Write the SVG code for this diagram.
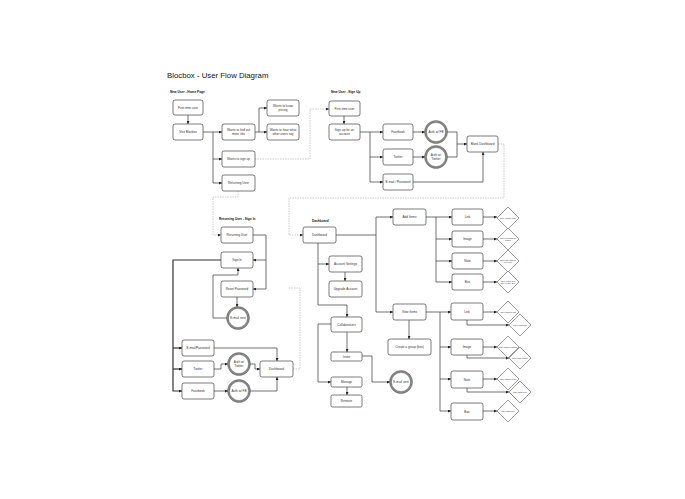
<svg xmlns="http://www.w3.org/2000/svg" width="685" height="499" viewBox="0 0 685 499">
<style>
.bg{fill:#fff}
.n rect{fill:#fff;stroke:#444;stroke-width:0.7}
.n circle.o{fill:#fff;stroke:#888;stroke-width:2}
.n circle.e{fill:none;stroke:#444;stroke-width:0.35}
.n polygon{fill:#fff;stroke:#555;stroke-width:0.6}
text{font-family:"Liberation Sans",Arial,sans-serif;fill:#333}
.t{font-size:3.1px;text-anchor:middle}
.d{font-size:2.2px;text-anchor:middle}
.h{font-size:3.2px;font-weight:bold;fill:#111}
.title{font-size:7.8px;fill:#111}
.c path{fill:none;stroke:#333;stroke-width:0.7;marker-end:url(#ar)}
.c path.k{stroke-width:1.2}
.c path.x{stroke:#aaa;stroke-width:0.6;stroke-dasharray:1.5 1}
.c path.nm{marker-end:none}
</style>
<defs>
<marker id="ar" viewBox="0 0 4 4" refX="4" refY="2" markerWidth="3" markerHeight="3" markerUnits="userSpaceOnUse" orient="auto"><path d="M0,0 L4,2 L0,4 z" fill="#222"/></marker>
</defs>
<rect class="bg" width="685" height="499"/>
<text class="title" x="167" y="78">Blocbox - User Flow Diagram</text>
<text class="h" x="170" y="93">New User - Home Page</text>
<text class="h" x="331" y="93">New User - Sign Up</text>
<text class="h" x="219" y="220">Returning User - Sign In</text>
<text class="h" x="312" y="222">Dashboard</text>

<g class="c" id="connectors">
<path d="M188 115 V124"/>
<path d="M203 132 H222"/>
<path d="M213 132 V183 H222"/>
<path d="M213 159 H222"/>
<path d="M255 132 H259 V108 H267"/>
<path d="M259 132 H267"/>
<path class="x" d="M255 159 H310 V109 H329"/>
<path class="x" d="M238 191 V197 H213 V235 H221"/>
<path d="M344 116 V124"/>
<path d="M360 132 H383"/>
<path d="M370 132 V182 H383"/>
<path d="M370 157 H383"/>
<path d="M413 132 H425"/>
<path d="M413 157 H425"/>
<path d="M447 132 H457 V144 H467"/>
<path class="nm" d="M447 157 H457 V144"/>
<path d="M413 182 H483 V152"/>
<path class="x" d="M498 144 H504 V198 H289 V235 H303"/>
<path class="x nm" d="M293 369 H300 V288 H289"/>
<path d="M253 235 H266 V289 H253"/>
<path d="M266 260 H253"/>
<path d="M237 297 V307"/>
<path d="M227 318 H213 V275 H238 V268"/>
<path class="k" d="M221 260 H173 V391 H182"/>
<path class="k" d="M173 348 H182"/>
<path class="k" d="M173 369 H182"/>
<path d="M214 348 H277 V361"/>
<path d="M214 369 H221 V364 H228"/>
<path d="M250 364 H255 V369 H260"/>
<path d="M214 391 H228"/>
<path d="M250 391 H277 V377"/>
<path d="M336 235 H376 V312 H393"/>
<path d="M376 235 V217 H393"/>
<path d="M318 243 V305 H347 V317"/>
<path d="M318 264 H329"/>
<path d="M345 272 V281"/>
<path d="M347 332 V352"/>
<path d="M331 324 H318 V382 H331"/>
<path d="M362 356 H372 V382 H390"/>
<path d="M347 387 V395"/>
<path d="M409 320 V339"/>
<path d="M426 217 H436 V282 H452"/>
<path d="M436 217 H452"/>
<path d="M436 239 H452"/>
<path d="M436 261 H452"/>
<path d="M483 217 H497"/>
<path d="M483 239 H497"/>
<path d="M483 261 H497"/>
<path d="M483 282 H497"/>
<path d="M426 312 H440 V411 H451"/>
<path d="M440 312 H451"/>
<path d="M440 347 H451"/>
<path d="M440 379 H451"/>
<path d="M483 312 H497"/>
<path d="M483 347 H497"/>
<path d="M483 379 H497"/>
<path d="M483 411 H497"/>
<path d="M467 320 V325 H509"/>
<path d="M467 355 V358 H509"/>
<path d="M467 388 V392 H509"/>
</g>

<g class="n" id="ftu1"><rect x="173" y="100" width="30" height="15" rx="2"/><text class="t" x="188" y="108.5">First-time user</text></g>
<g class="n" id="visit"><rect x="173" y="124" width="30" height="16" rx="2"/><text class="t" x="188" y="133">Visit Blocbox</text></g>
<g class="n" id="more"><rect x="222" y="124" width="33" height="16" rx="2"/><text class="t" x="238.5" y="131.3">Wants to find out</text><text class="t" x="238.5" y="135">more info</text></g>
<g class="n" id="pricing"><rect x="267" y="100" width="32" height="16" rx="2"/><text class="t" x="283" y="107.3">Wants to know</text><text class="t" x="283" y="111">pricing</text></g>
<g class="n" id="hear"><rect x="267" y="124" width="32" height="16" rx="2"/><text class="t" x="283" y="131.3">Wants to hear what</text><text class="t" x="283" y="135">other users say</text></g>
<g class="n" id="signup"><rect x="222" y="151" width="33" height="16" rx="2"/><text class="t" x="238.5" y="160">Wants to sign up</text></g>
<g class="n" id="ret1"><rect x="222" y="175" width="33" height="16" rx="2"/><text class="t" x="238.5" y="184">Returning User</text></g>

<g class="n" id="ftu2"><rect x="329" y="101" width="31" height="15" rx="2"/><text class="t" x="344.5" y="109.5">First-time user</text></g>
<g class="n" id="acct"><rect x="329" y="124" width="31" height="16" rx="2"/><text class="t" x="344.5" y="131.3">Sign up for an</text><text class="t" x="344.5" y="135">account</text></g>
<g class="n" id="fb1"><rect x="383" y="124" width="30" height="16" rx="2"/><text class="t" x="398" y="133">Facebook</text></g>
<g class="n" id="authfb1"><circle class="o" cx="436" cy="132" r="10.5"/><circle class="e" cx="436" cy="132" r="11.5"/><circle class="e" cx="436" cy="132" r="9.5"/><text class="t" x="436" y="133">Auth w/ FB</text></g>
<g class="n" id="tw1"><rect x="383" y="149" width="30" height="16" rx="2"/><text class="t" x="398" y="158">Twitter</text></g>
<g class="n" id="authtw1"><circle class="o" cx="436" cy="157" r="10.5"/><circle class="e" cx="436" cy="157" r="11.5"/><circle class="e" cx="436" cy="157" r="9.5"/><text class="t" x="436" y="156.2">Auth w/</text><text class="t" x="436" y="159.9">Twitter</text></g>
<g class="n" id="email1"><rect x="383" y="174" width="30" height="16" rx="2"/><text class="t" x="398" y="183">E-mail / Password</text></g>
<g class="n" id="blank"><rect x="467" y="136" width="31" height="16" rx="2"/><text class="t" x="482.5" y="145">Blank Dashboard</text></g>

<g class="n" id="ret2"><rect x="221" y="227" width="32" height="16" rx="2"/><text class="t" x="237" y="236">Returning User</text></g>
<g class="n" id="signin"><rect x="221" y="252" width="32" height="16" rx="2"/><text class="t" x="237" y="261">Sign In</text></g>
<g class="n" id="reset"><rect x="221" y="281" width="32" height="16" rx="2"/><text class="t" x="237" y="290">Reset Password</text></g>
<g class="n" id="sent1"><circle class="o" cx="238" cy="318" r="10.5"/><circle class="e" cx="238" cy="318" r="11.5"/><circle class="e" cx="238" cy="318" r="9.5"/><text class="t" x="238" y="319">E-mail sent</text></g>
<g class="n" id="email2"><rect x="182" y="340" width="32" height="16" rx="2"/><text class="t" x="198" y="349">E-mail/Password</text></g>
<g class="n" id="tw2"><rect x="182" y="361" width="32" height="16" rx="2"/><text class="t" x="198" y="370">Twitter</text></g>
<g class="n" id="fb2"><rect x="182" y="383" width="32" height="16" rx="2"/><text class="t" x="198" y="392">Facebook</text></g>
<g class="n" id="authtw2"><circle class="o" cx="239" cy="364" r="10.5"/><circle class="e" cx="239" cy="364" r="11.5"/><circle class="e" cx="239" cy="364" r="9.5"/><text class="t" x="239" y="363.2">Auth w/</text><text class="t" x="239" y="366.9">Twitter</text></g>
<g class="n" id="authfb2"><circle class="o" cx="239" cy="391" r="10.5"/><circle class="e" cx="239" cy="391" r="11.5"/><circle class="e" cx="239" cy="391" r="9.5"/><text class="t" x="239" y="392">Auth w/ FB</text></g>
<g class="n" id="dash2"><rect x="260" y="361" width="33" height="16" rx="2"/><text class="t" x="276.5" y="370">Dashboard</text></g>

<g class="n" id="dash"><rect x="303" y="227" width="33" height="16" rx="2"/><text class="t" x="319.5" y="236">Dashboard</text></g>
<g class="n" id="add"><rect x="393" y="209" width="33" height="16" rx="2"/><text class="t" x="409.5" y="218">Add Items</text></g>
<g class="n" id="settings"><rect x="329" y="256" width="33" height="16" rx="2"/><text class="t" x="345.5" y="265">Account Settings</text></g>
<g class="n" id="upgrade"><rect x="329" y="281" width="33" height="16" rx="2"/><text class="t" x="345.5" y="290">Upgrade Account</text></g>
<g class="n" id="collab"><rect x="331" y="317" width="31" height="15" rx="2"/><text class="t" x="346.5" y="325.5">Collaborators</text></g>
<g class="n" id="invite"><rect x="331" y="352" width="31" height="9" rx="1.5"/><text class="t" x="346.5" y="357.5">Invite</text></g>
<g class="n" id="manage"><rect x="331" y="377" width="31" height="10" rx="1.5"/><text class="t" x="346.5" y="383">Manage</text></g>
<g class="n" id="remove"><rect x="331" y="395" width="31" height="12" rx="1.5"/><text class="t" x="346.5" y="402">Remove</text></g>
<g class="n" id="sent2"><circle class="o" cx="401" cy="382" r="10.5"/><circle class="e" cx="401" cy="382" r="11.5"/><circle class="e" cx="401" cy="382" r="9.5"/><text class="t" x="401" y="383">E-mail sent</text></g>
<g class="n" id="view"><rect x="393" y="304" width="33" height="16" rx="2"/><text class="t" x="409.5" y="313">View Items</text></g>
<g class="n" id="group"><rect x="388" y="339" width="43" height="16" rx="2"/><text class="t" x="409.5" y="348">Create a group (box)</text></g>

<g class="n" id="link1"><rect x="452" y="209" width="31" height="16" rx="2"/><text class="t" x="467.5" y="218">Link</text></g>
<g class="n" id="image1"><rect x="452" y="231" width="31" height="16" rx="2"/><text class="t" x="467.5" y="240">Image</text></g>
<g class="n" id="note1"><rect x="452" y="253" width="31" height="16" rx="2"/><text class="t" x="467.5" y="262">Note</text></g>
<g class="n" id="box1"><rect x="452" y="274" width="31" height="16" rx="2"/><text class="t" x="467.5" y="283">Box</text></g>
<g class="n" id="dlink1"><polygon points="508,207 519,218 508,229 497,218"/><text class="d" x="508" y="218.8">User inputs URL</text></g>
<g class="n" id="dimage1"><polygon points="508,228 519,239 508,250 497,239"/><text class="d" x="508" y="238.6">User uploads an</text><text class="d" x="508" y="241.2">image</text></g>
<g class="n" id="dnote1"><polygon points="508,250 519,261 508,272 497,261"/><text class="d" x="508" y="260.6">User can handle</text><text class="d" x="508" y="263.2">text note</text></g>
<g class="n" id="dbox1"><polygon points="508,271 519,282 508,293 497,282"/><text class="d" x="508" y="281.6">User types in a</text><text class="d" x="508" y="284.2">title for the box</text></g>

<g class="n" id="link2"><rect x="451" y="303" width="32" height="17" rx="2"/><text class="t" x="467" y="312.5">Link</text></g>
<g class="n" id="image2"><rect x="451" y="339" width="32" height="16" rx="2"/><text class="t" x="467" y="348">Image</text></g>
<g class="n" id="note2"><rect x="451" y="371" width="32" height="17" rx="2"/><text class="t" x="467" y="380.5">Note</text></g>
<g class="n" id="box2"><rect x="451" y="403" width="32" height="17" rx="2"/><text class="t" x="467" y="412.5">Box</text></g>
<g class="n" id="dshlink"><polygon points="508,301 519,312 508,323 497,312"/><text class="d" x="508" y="312.8">User shares link</text></g>
<g class="n" id="dtaglink"><polygon points="520,314 531,325 520,336 509,325"/><text class="d" x="520" y="325.8">User tags link</text></g>
<g class="n" id="dshimage"><polygon points="508,336 519,347 508,358 497,347"/><text class="d" x="508" y="347.8">User shares image</text></g>
<g class="n" id="dtagimage"><polygon points="520,347 531,358 520,369 509,358"/><text class="d" x="520" y="358.8">User tags image</text></g>
<g class="n" id="dshnote"><polygon points="508,368 519,379 508,390 497,379"/><text class="d" x="508" y="379.8">User shares note</text></g>
<g class="n" id="dtagnote"><polygon points="520,381 531,392 520,403 509,392"/><text class="d" x="520" y="392.8">User tags note</text></g>
<g class="n" id="dtagbox"><polygon points="508,400 519,411 508,422 497,411"/><text class="d" x="508" y="411.8">User tags box</text></g>
</svg>
